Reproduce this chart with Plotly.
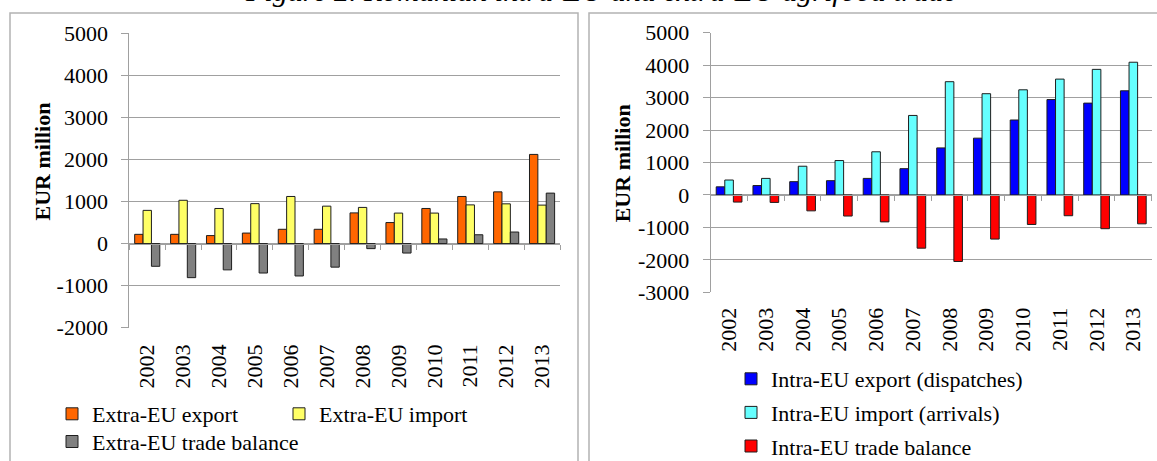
import plotly.graph_objects as go

W, H = 1157, 461

years = [str(y) for y in range(2002, 2014)]

# Extra-EU agrifood trade (EUR million)
extra_export = [220, 220, 190, 250, 340, 340, 730, 500, 835, 1120, 1230, 2120]
extra_import = [790, 1030, 835, 950, 1120, 890, 860, 725, 725, 920, 945, 915]
extra_balance = [-540, -810, -625, -700, -770, -560, -120, -225, 110, 210, 275, 1200]

# Intra-EU agrifood trade (EUR million)
intra_export = [250, 290, 410, 440, 510, 810, 1450, 1750, 2310, 2940, 2830, 3210]
intra_import = [460, 510, 885, 1060, 1330, 2450, 3490, 3120, 3240, 3570, 3870, 4090]
intra_balance = [-220, -230, -490, -650, -830, -1640, -2050, -1360, -910, -640, -1040, -890]

# y tick labels (plain hyphen, as in the original)
left_ticks = [-2000, -1000, 0, 1000, 2000, 3000, 4000, 5000]
right_ticks = [-3000, -2000, -1000, 0, 1000, 2000, 3000, 4000, 5000]


def px(x):
    return x / W


def py(y):
    return 1 - y / H


SERIF = "Liberation Serif"
GRID = "#a0a0a0"
OUTLINE = "#1e1e1e"

fig = go.Figure()

left = [
    ("Extra-EU export", extra_export, "#ff6600", "legend"),
    ("Extra-EU import", extra_import, "#ffff66", "legend"),
    ("Extra-EU trade balance", extra_balance, "#808080", "legend3"),
]
for name, vals, col, leg in left:
    fig.add_trace(go.Bar(
        x=years, y=vals, name=name,
        marker=dict(color=col, line=dict(color=OUTLINE, width=1)),
        xaxis="x", yaxis="y", legend=leg,
    ))

right = [
    ("Intra-EU export (dispatches)", intra_export, "#0000ff"),
    ("Intra-EU import (arrivals)", intra_import, "#66ffff"),
    ("Intra-EU trade balance", intra_balance, "#ff0000"),
]
for i, (name, vals, col) in enumerate(right):
    fig.add_trace(go.Bar(
        x=years, y=vals, name=name, legendgroup=f"r{i}",
        marker=dict(color=col, line=dict(color=OUTLINE, width=1)),
        xaxis="x2", yaxis="y2", legend="legend2",
    ))

tickfont = dict(family=SERIF, size=22, color="black")

xcommon = dict(
    type="category", showgrid=False, showline=True, linecolor=GRID, linewidth=1,
    ticks="outside", tickson="boundaries", ticklen=5, tickcolor=GRID,
    tickangle=-90, tickfont=tickfont, anchor="free", automargin=False,
)
ycommon = dict(
    showgrid=True, gridcolor=GRID, gridwidth=1, zeroline=False,
    showline=True, linecolor=GRID, linewidth=1,
    ticks="outside", ticklen=7, tickcolor=GRID, tickmode="array",
    tickfont=tickfont, ticklabelstandoff=9, automargin=False,
)

left_zero = 33.3 + 5 * (327.7 - 33.3) / 7
right_zero = 32.7 + 5 * (292.3 - 32.7) / 8

legfont = dict(family=SERIF, size=22, color="black")

fig.update_layout(
    template="none",
    width=W, height=H,
    margin=dict(l=0, r=0, t=0, b=0, autoexpand=False),
    paper_bgcolor="white", plot_bgcolor="rgba(0,0,0,0)",
    font=dict(family=SERIF, size=22, color="black"),
    barmode="group", bargap=0.3, bargroupgap=0,
    xaxis=dict(xcommon, domain=[px(129.3), px(560)], position=py(left_zero),
               ticklabelstandoff=int(344 - left_zero - 9)),
    yaxis=dict(ycommon, domain=[py(327.7), py(33.3)], range=[-2000, 5000],
               tickvals=left_ticks, ticktext=[str(v) for v in left_ticks]),
    xaxis2=dict(xcommon, domain=[px(710.7), px(1151.7)], position=py(right_zero),
                ticklabelstandoff=int(307 - right_zero - 9)),
    yaxis2=dict(ycommon, domain=[py(292.3), py(32.7)], range=[-3000, 5000], anchor="x2",
                tickvals=right_ticks, ticktext=[str(v) for v in right_ticks]),
    legend=dict(orientation="h", x=px(52), y=py(414), xanchor="left", yanchor="middle",
                bgcolor="rgba(0,0,0,0)", font=legfont, entrywidth=182),
    legend3=dict(orientation="h", x=px(52), y=py(441.7), xanchor="left", yanchor="middle",
                 bgcolor="rgba(0,0,0,0)", font=legfont),
    legend2=dict(orientation="v", x=px(731), y=py(358), xanchor="left", yanchor="top",
                 bgcolor="rgba(0,0,0,0)", font=legfont, tracegroupgap=2),
    showlegend=True,
)

# panel frames
for x0, x1 in [(10, 578), (589, 1170)]:
    fig.add_shape(type="rect", xref="paper", yref="paper",
                  x0=px(x0), x1=px(x1), y0=py(480), y1=py(13),
                  line=dict(color="#b3b3b3", width=1.5), layer="below")

# y-axis titles
for x, y in [(42, 161.5), (622, 163.3)]:
    fig.add_annotation(text="<b>EUR million</b>", textangle=-90, showarrow=False,
                       xref="paper", yref="paper", x=px(x), y=py(y),
                       xanchor="center", yanchor="middle",
                       font=dict(family=SERIF, size=22, color="black"))

fig.add_annotation(text="<i>Figure 2. Romanian intra-EU and extra-EU agrifood trade</i>",
                   showarrow=False, xref="paper", yref="paper", x=px(600), y=py(-9.5),
                   xanchor="center", yanchor="middle",
                   font=dict(family=SERIF, size=30, color="black"))

# the page's default body margin would push the figure off the window
fig.write_html("out.html", config={"displayModeBar": False},
               post_script="document.body.style.margin='0';")
